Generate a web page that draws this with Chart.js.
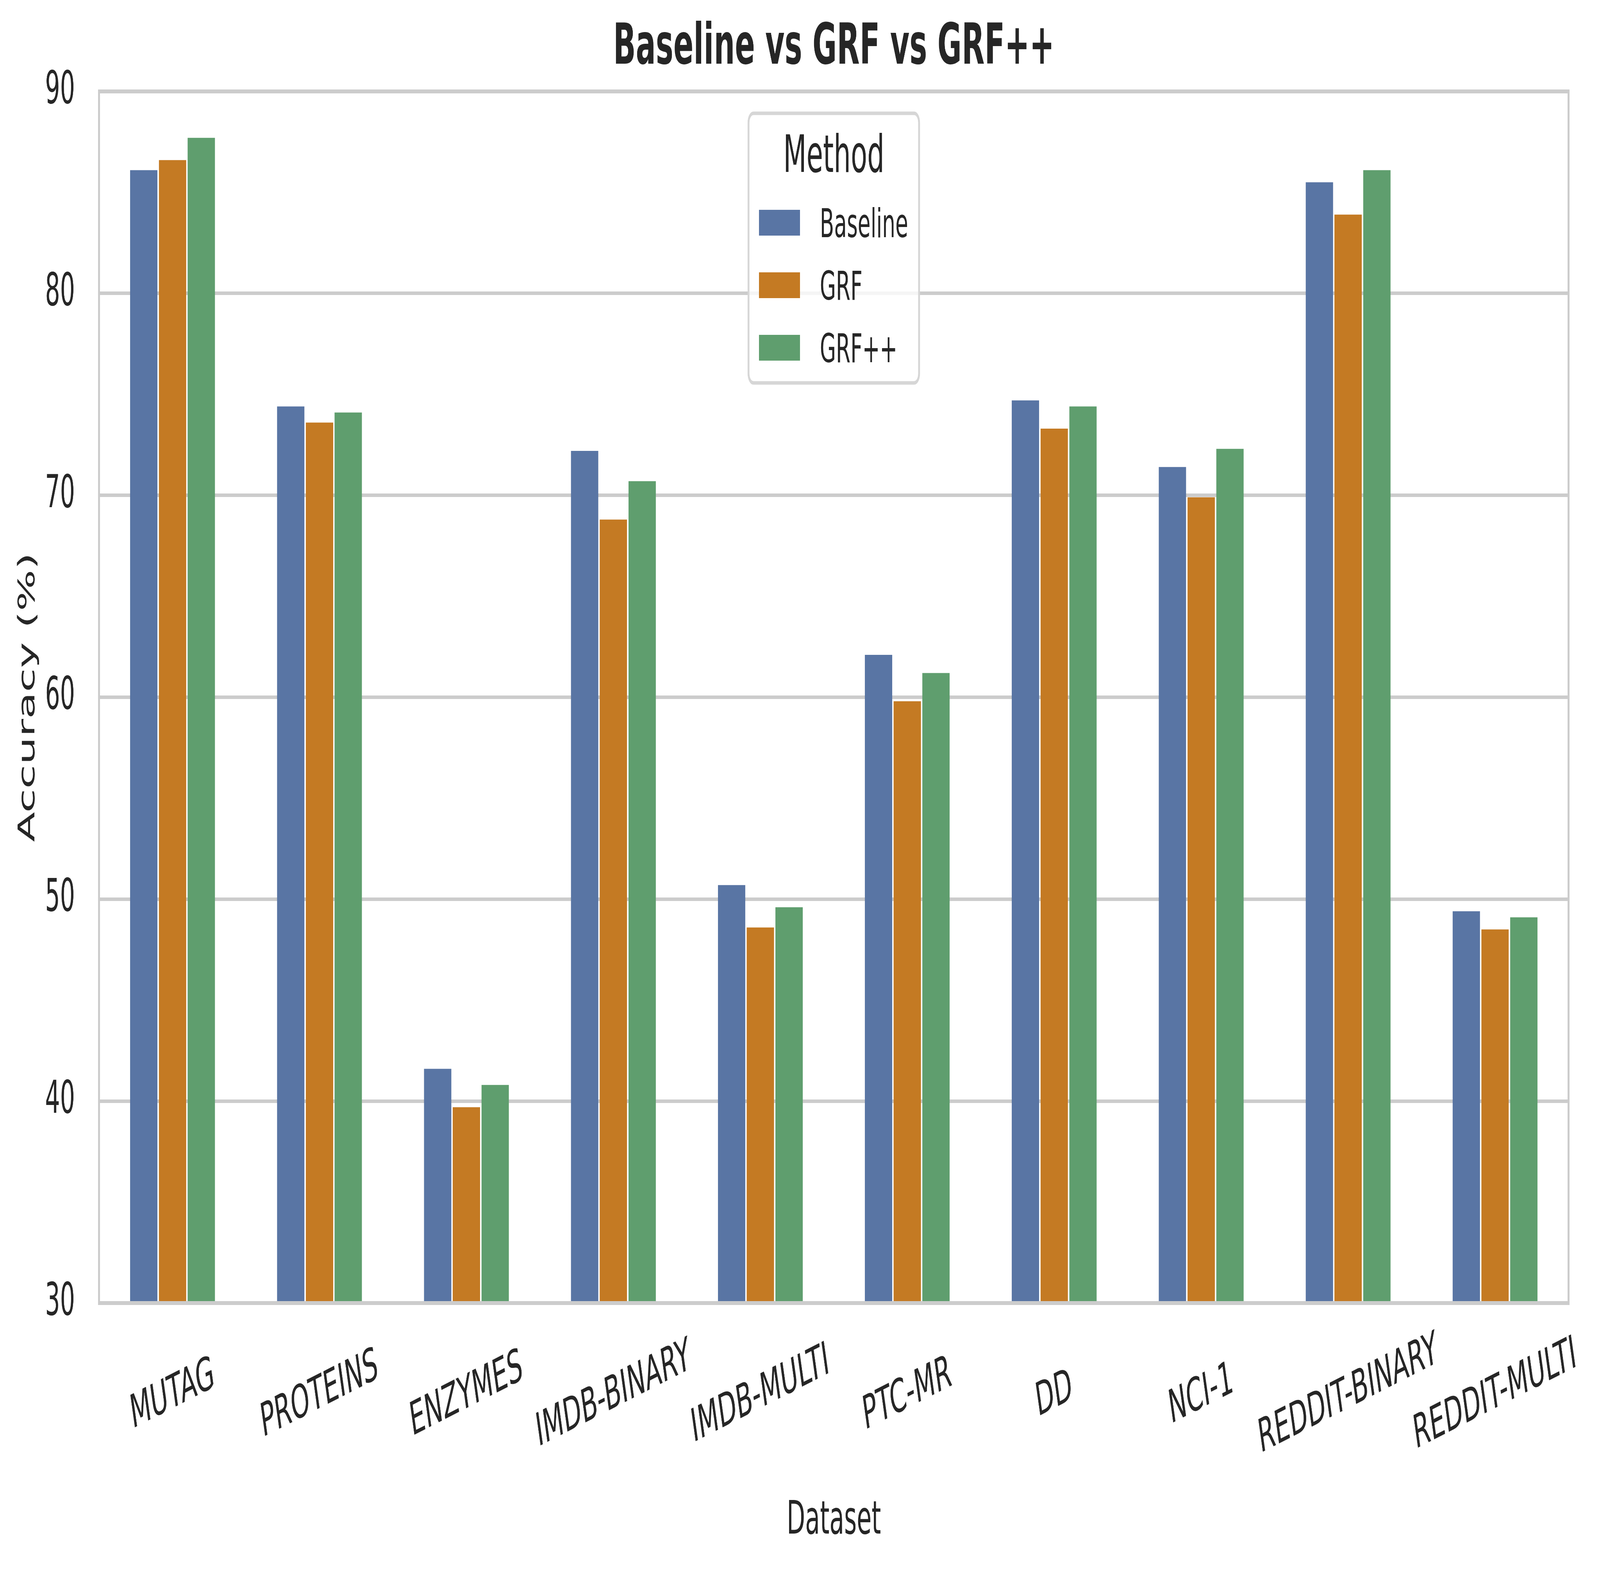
<!DOCTYPE html>
<html>
<head>
<meta charset="utf-8">
<script src="https://cdn.jsdelivr.net/npm/chart.js@4.4.1/dist/chart.umd.min.js"></script>
<style>
  html, body { margin: 0; padding: 0; background: #fff; overflow: hidden; }
  #myChart { display: block; width: 100vw; height: 100vh; }
</style>
</head>
<body>
<canvas id="myChart" width="7834" height="4031" style="width:100vw;height:100vh"></canvas>
<script>
// values
const datasetNames = ['MUTAG', 'PROTEINS', 'ENZYMES', 'IMDB-BINARY', 'IMDB-MULTI',
                      'PTC-MR', 'DD', 'NCI-1', 'REDDIT-BINARY', 'REDDIT-MULTI'];
const methods = ['Baseline', 'GRF', 'GRF++'];
const baseline = [86.1, 74.4, 41.6, 72.2, 50.7, 62.1, 74.7, 71.4, 85.5, 49.4];
const grf      = [86.6, 73.6, 39.7, 68.8, 48.6, 59.8, 73.3, 69.9, 83.9, 48.5];
const grfPlus  = [87.7, 74.1, 40.8, 70.7, 49.6, 61.2, 74.4, 72.3, 86.1, 49.1];
const yMin = 30, yMax = 90, yStep = 10;

const colors = ['#5975a4', '#c47a23', '#5f9e6e'];
const FONT = 'DejaVu Sans';
const TEXT = '#262626';

// seaborn-like frame round the plot area
const framePlugin = {
  id: 'frame',
  afterDatasetsDraw(chart) {
    const {ctx, chartArea: a} = chart;
    ctx.save();
    ctx.strokeStyle = '#cccccc';
    ctx.lineWidth = 10;
    ctx.strokeRect(a.left, a.top, a.right - a.left, a.bottom - a.top);
    ctx.restore();
  }
};

// rotated x labels centred under the ticks
const xLabelPlugin = {
  id: 'xLabels',
  afterDraw(chart) {
    const {ctx, chartArea} = chart;
    const x = chart.scales.x;
    const rot = 15 * Math.PI / 180;
    ctx.save();
    ctx.font = '118px "' + FONT + '"';
    ctx.fillStyle = TEXT;
    ctx.textAlign = 'center';
    ctx.textBaseline = 'middle';
    chart.data.labels.forEach((lab, i) => {
      ctx.save();
      ctx.translate(x.getPixelForTick(i), chartArea.bottom + 237);
      ctx.rotate(-rot);
      ctx.fillText(lab, 0, 0);
      ctx.restore();
    });
    ctx.restore();
  }
};

// legend box with title, upper centre of the plot
const legendPlugin = {
  id: 'methodLegend',
  afterDraw(chart) {
    const {ctx, chartArea: a} = chart;
    const w = 835, h = 690;
    const left = (a.left + a.right) / 2 - w / 2;
    const top = a.top + 56;
    ctx.save();
    ctx.beginPath();
    ctx.roundRect(left, top, w, h, 24);
    ctx.fillStyle = 'rgba(255,255,255,0.8)';
    ctx.fill();
    ctx.lineWidth = 9;
    ctx.strokeStyle = '#d6d6d6';
    ctx.stroke();

    ctx.fillStyle = TEXT;
    ctx.textAlign = 'center';
    ctx.textBaseline = 'alphabetic';
    ctx.font = '132px "' + FONT + '"';
    ctx.fillText('Method', left + w / 2, top + 150);

    ctx.textAlign = 'left';
    ctx.font = '102px "' + FONT + '"';
    chart.data.datasets.forEach((ds, i) => {
      const sy = top + 247 + i * 160;
      ctx.fillStyle = ds.backgroundColor;
      ctx.fillRect(left + 51, sy, 201, 66);
      ctx.fillStyle = TEXT;
      ctx.fillText(ds.label, left + 349, sy + 70);
    });
    ctx.restore();
  }
};

const ctx = document.getElementById('myChart');
new Chart(ctx, {
  type: 'bar',
  data: {
    labels: datasetNames,
    datasets: [
      {label: methods[0], data: baseline, backgroundColor: colors[0]},
      {label: methods[1], data: grf, backgroundColor: colors[1]},
      {label: methods[2], data: grfPlus, backgroundColor: colors[2]}
    ]
  },
  options: {
    responsive: false,
    animation: false,
    devicePixelRatio: 1,
    layout: {padding: {left: 0, right: 154, top: 0, bottom: 0}},
    datasets: {
      bar: {categoryPercentage: 0.587, barPercentage: 0.95, borderWidth: 0}
    },
    plugins: {
      legend: {display: false},
      tooltip: {enabled: false},
      title: {
        display: true,
        fullSize: false,   // centre over the plot area, like matplotlib
        text: 'Baseline vs GRF vs GRF++',
        color: TEXT,
        font: {family: FONT, size: 145, weight: 'bold', lineHeight: 1.2},
        padding: {top: 38, bottom: 22}
      }
    },
    scales: {
      x: {
        grid: {display: false},
        border: {display: false},
        ticks: {display: false},
        title: {
          display: true,
          text: 'Dataset',
          color: TEXT,
          font: {family: FONT, size: 118, lineHeight: 1.2},
          padding: {top: 0, bottom: 66}
        },
        afterFit: (s) => { s.height = 696; }
      },
      y: {
        min: yMin,
        max: yMax,
        grid: {color: '#cccccc', lineWidth: 9, drawTicks: false},
        border: {display: false},
        ticks: {
          stepSize: yStep,
          color: TEXT,
          padding: 118,
          font: {family: FONT, size: 115}
        },
        title: {
          display: true,
          text: 'Accuracy (%)',
          color: TEXT,
          font: {family: FONT, size: 112, lineHeight: 1.2},
          padding: {top: 72, bottom: 0}
        },
        afterFit: (s) => { s.width = 485; }
      }
    }
  },
  plugins: [framePlugin, xLabelPlugin, legendPlugin]
});
</script>
</body>
</html>
